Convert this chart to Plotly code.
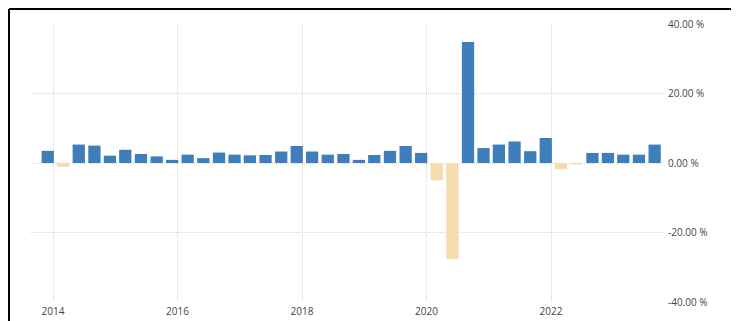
import plotly.graph_objects as go

# Quarterly growth (%), 2013Q4 .. 2023Q3, dated on first day of the quarter's last month
periods = [
    "2013-12-01",
    "2014-03-01", "2014-06-01", "2014-09-01", "2014-12-01",
    "2015-03-01", "2015-06-01", "2015-09-01", "2015-12-01",
    "2016-03-01", "2016-06-01", "2016-09-01", "2016-12-01",
    "2017-03-01", "2017-06-01", "2017-09-01", "2017-12-01",
    "2018-03-01", "2018-06-01", "2018-09-01", "2018-12-01",
    "2019-03-01", "2019-06-01", "2019-09-01", "2019-12-01",
    "2020-03-01", "2020-06-01", "2020-09-01", "2020-12-01",
    "2021-03-01", "2021-06-01", "2021-09-01", "2021-12-01",
    "2022-03-01", "2022-06-01", "2022-09-01", "2022-12-01",
    "2023-03-01", "2023-06-01", "2023-09-01",
]
growth = [
    3.5,
    -1.1, 5.3, 5.0, 2.1,
    3.8, 2.6, 1.9, 0.9,
    2.4, 1.4, 3.0, 2.4,
    2.2, 2.3, 3.3, 4.9,
    3.3, 2.4, 2.6, 0.9,
    2.3, 3.5, 4.9, 2.9,
    -5.0, -27.6, 34.8, 4.3,
    5.3, 6.2, 3.4, 7.2,
    -1.8, -0.4, 2.9, 2.9,
    2.4, 2.4, 5.3,
]
y_tickvals = [-40, -20, 0, 20, 40]
y_ticktext = ["-40.00 %", "-20.00 %", "0.00 %", "20.00 %", "40.00 %"]

POS = "#3d7ebb"
NEG = "#f5dcae"
colors = [POS if v >= 0 else NEG for v in growth]

fig = go.Figure(go.Bar(x=periods, y=growth, marker=dict(color=colors, line=dict(width=0)),
                       hoverinfo="skip"))

grid = "#d6d6d6"
frame = dict(color="black", width=2)
XL, XR, YT, YB = -0.0332, 1.1106, 1.054, -0.1
fig.update_layout(
    width=731, height=313,
    margin=dict(l=22, r=76, t=16, b=19),
    paper_bgcolor="white", plot_bgcolor="white",
    bargap=0.2, showlegend=False,
    font=dict(family="Open Sans, sans-serif", size=10, color="#444"),
    xaxis=dict(
        type="date", range=["2013-08-19", "2023-10-20"],
        tick0="2014-01-01", dtick="M24", tickformat="%Y",
        showgrid=True, gridcolor=grid, griddash="1px,1px", gridwidth=1,
        zeroline=False, showline=False, ticks="", ticklabelstandoff=2,
        automargin=False,
        tickfont=dict(size=10, color="#444"),
    ),
    yaxis=dict(
        side="right", range=[-40, 40], tickvals=y_tickvals, ticktext=y_ticktext,
        showgrid=True, gridcolor=grid, griddash="1px,1px", gridwidth=1,
        zeroline=False, showline=False, ticks="", ticklabelstandoff=4,
        automargin=False,
        tickfont=dict(size=10, color="#444"),
    ),
    shapes=[
        dict(type="line", xref="paper", yref="paper", x0=XL, x1=XL, y0=YB, y1=YT, line=frame),
        dict(type="line", xref="paper", yref="paper", x0=XL, x1=XR, y0=YT, y1=YT, line=frame),
        dict(type="line", xref="paper", yref="paper", x0=XR, x1=XR, y0=YB, y1=YT, line=frame),
    ],
)

fig.write_html("out.html", config={"displayModeBar": False, "staticPlot": True})
